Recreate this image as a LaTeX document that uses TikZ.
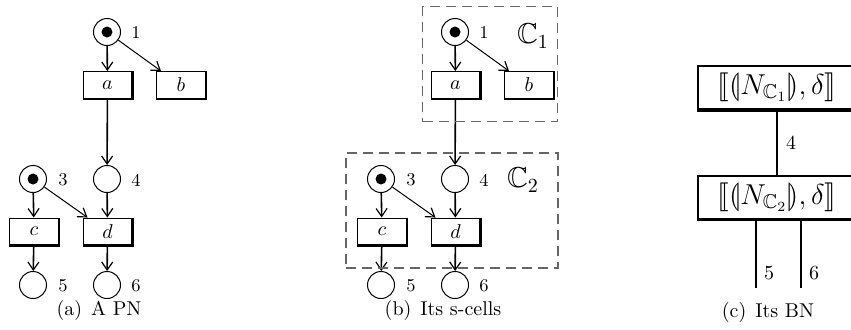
\documentclass[tikz,border=0pt]{standalone}
\usepackage{amssymb}
\usepackage{stmaryrd}
\usetikzlibrary{arrows.meta}
\begin{document}
\begin{tikzpicture}[x=0.5pt,y=-0.5pt,
 place/.style={circle,draw,line width=0.5pt,minimum size=13.5pt,inner sep=0pt},
 trans/.style={rectangle,draw,line width=0.5pt,minimum width=24.5pt,minimum height=13.5pt,inner sep=0pt},
 thickedge/.style={line width=1.3pt},
 arc/.style={line width=0.8pt,-{Straight Barb[length=4pt,width=5.5pt,line width=0.6pt]}},
 diagarc/.style={arc,line width=0.5pt},
 lbl/.style={font=\small,inner sep=0pt},
 cell/.style={draw=black!60,dash pattern=on 5pt off 3pt,line width=0.6pt,inner sep=0pt},
 tok/.style={circle,fill,minimum size=5.5pt,inner sep=0pt},
 bn/.style={rectangle,draw,line width=1pt,minimum width=79pt,minimum height=21.5pt,inner sep=0pt,font=\Large},
 bnline/.style={line width=1.3pt},
]
\useasboundingbox (0,0) rectangle (851,329);
\foreach \ox/\q in {0/A,348/B}{
  \node[place] (\q p1) at (\ox+107,32) {};
  \node[tok] (\q k1) at (\q p1) {};
  \node[place] (\q p3) at (\ox+33,179) {};
  \node[tok] (\q k3) at (\q p3) {};
  \node[place] (\q p4) at (\ox+107,179) {};
  \node[place] (\q p5) at (\ox+33,285) {};
  \node[place] (\q p6) at (\ox+107,285) {};
  \node[trans] (\q ta) at (\ox+107.5,85) {$a$};
  \node[trans] (\q tb) at (\ox+181,85) {$b$};
  \node[trans] (\q tc) at (\ox+34,231.5) {$c$};
  \node[trans] (\q td) at (\ox+107.5,231.5) {$d$};
  \foreach \t in {ta,tb,tc,td}{
    \draw[thickedge] (\q\t.north east) -- (\q\t.south east) -- (\q\t.south west);
  }
  \node[lbl] (\q l1) at (\ox+136,32) {1};
  \node[lbl] (\q l3) at (\ox+63,180) {3};
  \node[lbl] (\q l4) at (\ox+136,180) {4};
  \node[lbl] (\q l5) at (\ox+63,286) {5};
  \node[lbl] (\q l6) at (\ox+136,286) {6};
  \draw[arc] (\q p1) -- (\q ta);
  \draw[diagarc] (\q p1) -- ([xshift=2.5pt]\q tb.north west);
  \draw[arc] (\q ta) -- (\q p4);
  \draw[arc] (\q p3) -- (\q tc);
  \draw[diagarc] (\q p3) -- ([xshift=2.5pt]\q td.north west);
  \draw[arc] (\q p4) -- (\q td);
  \draw[arc] (\q tc) -- (\q p5);
  \draw[arc] (\q td) -- (\q p6);
}
\node (capA) at (99,310) {(a)\hspace{0.45em}A PN};
\node (capB) at (443,310) {(b)\hspace{0.45em}Its s-cells};
% s-cells
\node[cell,minimum width=67.5pt,minimum height=57.5pt] (cellone) at (490.2,64.2) {};
\node[cell,minimum width=106pt,minimum height=57.5pt] (celltwo) at (452,210.5) {};
\node[font=\Large,inner sep=0pt] (cellonelab) at (533,36) {$\mathbb{C}_1$};
\node[font=\Large,inner sep=0pt] (celltwolab) at (523,180) {$\mathbb{C}_2$};
% BN
\node[bn] (n1) at (777,87.5) {$\llbracket\llparenthesis N_{\mathbb{C}_1}\rrparenthesis,\delta\rrbracket$};
\node[bn] (n2) at (777,197) {$\llbracket\llparenthesis N_{\mathbb{C}_2}\rrparenthesis,\delta\rrbracket$};
\foreach \n in {n1,n2}{
  \draw[line width=1.6pt] (\n.north east) -- (\n.south east) -- (\n.south west);
}
\draw[bnline] (n1) -- (n2);
\coordinate (e5) at (756,288);
\coordinate (e6) at (801,288);
\draw[bnline] (e5 |- n2.south) -- (e5);
\draw[bnline] (e6 |- n2.south) -- (e6);
\node[inner sep=0pt] (b4) at (791,143) {4};
\node[inner sep=0pt] (b5) at (769,273) {5};
\node[inner sep=0pt] (b6) at (814,273) {6};
\node (capC) at (768,312) {(c)\hspace{0.45em}Its BN};
\end{tikzpicture}
\end{document}
